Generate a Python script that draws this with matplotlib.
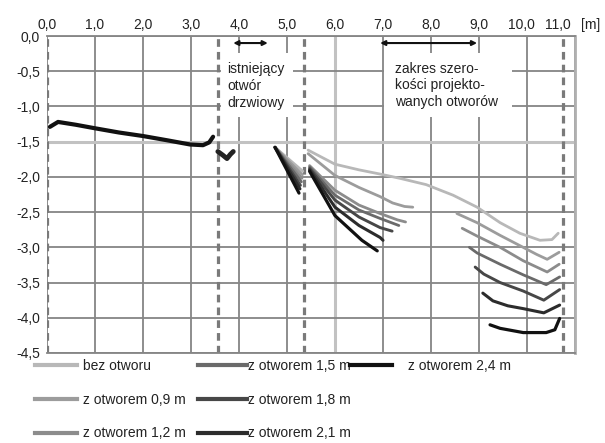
import matplotlib
matplotlib.use("Agg")
import matplotlib.pyplot as plt
import matplotlib.transforms as mtransforms
from matplotlib.lines import Line2D
from matplotlib.patches import Rectangle

plt.rcParams['font.family'] = ['Liberation Sans', 'DejaVu Sans']
plt.rcParams['font.size'] = 10

# ---------------- data ----------------
x_ticks = [0, 1, 2, 3, 4, 5, 6, 7, 8, 9, 10, 11]
x_tick_labels = ['0,0', '1,0', '2,0', '3,0', '4,0', '5,0', '6,0', '7,0', '8,0', '9,0', '10,0', '11,0']
y_ticks = [0.0, -0.5, -1.0, -1.5, -2.0, -2.5, -3.0, -3.5, -4.0, -4.5]
y_tick_labels = ['0,0', '-0,5', '-1,0', '-1,5', '-2,0', '-2,5', '-3,0', '-3,5', '-4,0', '-4,5']

wall_edges = [0.0, 3.56, 5.35, 10.75]
door_range = [3.88, 4.6]
design_range = [6.94, 8.96]

# common part of all curves (left wall segment)
wall_x = [0.06, 0.23, 0.6, 1.0, 1.5, 2.0, 2.5, 2.98, 3.25, 3.38, 3.46]
wall_y = [-1.29, -1.22, -1.26, -1.31, -1.37, -1.42, -1.48, -1.54, -1.55, -1.51, -1.43]
blob_x = [3.56, 3.66, 3.75, 3.82, 3.88]
blob_y = [-1.64, -1.69, -1.74, -1.68, -1.64]

labels = ['bez otworu', 'z otworem 0,9 m', 'z otworem 1,2 m', 'z otworem 1,5 m',
          'z otworem 1,8 m', 'z otworem 2,1 m', 'z otworem 2,4 m']

# short segment between door and pier (4.75 - 5.3 m)
pier_start_x = 4.75
pier_start_y = -1.58
pier_end_x = [5.33, 5.32, 5.31, 5.30, 5.28, 5.27, 5.25]
pier_end_y = [-1.92, -1.97, -2.02, -2.07, -2.12, -2.17, -2.23]

# bez otworu (continuous)
bez_x = [5.44, 6.0, 6.5, 6.94, 7.35, 7.9, 8.46, 8.96, 9.44, 9.85, 10.27, 10.52, 10.65]
bez_y = [-1.62, -1.82, -1.9, -1.96, -2.02, -2.11, -2.26, -2.43, -2.65, -2.8, -2.9, -2.89, -2.8]

# z otworem 0,9 m
o09_mid_x = [5.44, 6.0, 6.5, 6.94, 7.2, 7.45, 7.62]
o09_mid_y = [-1.67, -1.98, -2.15, -2.28, -2.37, -2.42, -2.43]
o09_right_x = [8.54, 8.96, 9.44, 9.92, 10.2, 10.42, 10.67]
o09_right_y = [-2.52, -2.65, -2.83, -3.0, -3.1, -3.17, -3.07]

# z otworem 1,2 m
o12_mid_x = [5.47, 6.0, 6.5, 6.94, 7.3, 7.47]
o12_mid_y = [-1.84, -2.19, -2.4, -2.52, -2.61, -2.64]
o12_right_x = [8.65, 8.96, 9.44, 9.92, 10.42, 10.67]
o12_right_y = [-2.73, -2.84, -3.0, -3.19, -3.35, -3.24]

# z otworem 1,5 m
o15_mid_x = [5.47, 6.0, 6.5, 6.94, 7.33]
o15_mid_y = [-1.86, -2.26, -2.47, -2.59, -2.69]
o15_right_x = [8.8, 8.96, 9.44, 9.92, 10.4, 10.68]
o15_right_y = [-3.0, -3.08, -3.24, -3.39, -3.53, -3.42]

# z otworem 1,8 m
o18_mid_x = [5.47, 6.0, 6.5, 6.94, 7.19]
o18_mid_y = [-1.88, -2.33, -2.57, -2.72, -2.77]
o18_right_x = [8.92, 9.1, 9.44, 9.92, 10.35, 10.68]
o18_right_y = [-3.28, -3.38, -3.5, -3.62, -3.75, -3.6]

# z otworem 2,1 m
o21_mid_x = [5.47, 6.0, 6.5, 6.94, 7.0]
o21_mid_y = [-1.9, -2.43, -2.69, -2.86, -2.9]
o21_right_x = [9.08, 9.29, 9.6, 9.92, 10.35, 10.68]
o21_right_y = [-3.65, -3.76, -3.83, -3.87, -3.93, -3.82]

# z otworem 2,4 m
o24_mid_x = [5.47, 6.0, 6.56, 6.88]
o24_mid_y = [-1.92, -2.55, -2.9, -3.05]
o24_right_x = [9.23, 9.44, 9.92, 10.4, 10.58, 10.68]
o24_right_y = [-4.1, -4.15, -4.21, -4.21, -4.17, -4.01]

# ---------------- styles ----------------
colors = ['#b8b8b8', '#9c9c9c', '#8c8c8c', '#6a6a6a', '#474747', '#2c2c2c', '#111111']
widths = [2.0, 2.0, 2.0, 2.0, 2.1, 2.2, 2.3]

fig = plt.figure(figsize=(6.05, 4.43), dpi=100)
ax = fig.add_axes([47 / 605, 1 - 353 / 443, 528 / 605, 317 / 443])
ax.set_xlim(0, 11)
ax.set_ylim(-4.5, 0)

# grid
ax.set_axisbelow(True)
for xv in x_ticks:
    c, lw = ('#c2c2c2', 2.2) if xv == 6 else ('#858585', 1.3)
    ax.axvline(xv, color=c, lw=lw, zorder=0.6)
for yv in y_ticks:
    c, lw = ('#c2c2c2', 2.2) if yv == -1.5 else ('#858585', 1.3)
    ax.axhline(yv, color=c, lw=lw, zorder=0.6)

for s in ['top', 'bottom']:
    ax.spines[s].set_color('#858585')
    ax.spines[s].set_linewidth(1.3)
ax.spines['left'].set_visible(False)
ax.spines['right'].set_color('#b0b0b0')
ax.spines['right'].set_linewidth(2.0)

# white boxes behind the annotations
ax.add_patch(Rectangle((3.62, -1.15), 1.5, 0.91, facecolor='white', edgecolor='none', zorder=1))
ax.add_patch(Rectangle((7.03, -1.15), 2.66, 0.91, facecolor='white', edgecolor='none', zorder=1))

# dashed wall edges
for xe in wall_edges:
    ax.axvline(xe, color='#7a7a7a', lw=2.3, dashes=(2.4, 1.6), zorder=1.5)

# curves
ax.plot(wall_x, wall_y, color='#111111', lw=3.0, solid_capstyle='round', zorder=3)
ax.plot(blob_x, blob_y, color='#222222', lw=3.5, solid_capstyle='round', zorder=3)

mids = [(bez_x, bez_y), (o09_mid_x, o09_mid_y), (o12_mid_x, o12_mid_y), (o15_mid_x, o15_mid_y),
        (o18_mid_x, o18_mid_y), (o21_mid_x, o21_mid_y), (o24_mid_x, o24_mid_y)]
rights = [None, (o09_right_x, o09_right_y), (o12_right_x, o12_right_y), (o15_right_x, o15_right_y),
          (o18_right_x, o18_right_y), (o21_right_x, o21_right_y), (o24_right_x, o24_right_y)]

for i in range(7):
    kw = dict(color=colors[i], lw=widths[i], solid_capstyle='round', solid_joinstyle='round', zorder=3 + i * 0.1)
    ax.plot([pier_start_x, pier_end_x[i]], [pier_start_y, pier_end_y[i]], **kw)
    ax.plot(mids[i][0], mids[i][1], **kw)
    if rights[i] is not None:
        ax.plot(rights[i][0], rights[i][1], **kw)

# annotations
ax.text(3.75, -0.71, 'istniejący\notwór\ndrzwiowy', ha='left', va='center', linespacing=1.3,
        color='#222222', zorder=4)
ax.text(7.25, -0.70, 'zakres szero-\nkości projekto-\nwanych otworów', ha='left', va='center',
        linespacing=1.25, color='#222222', zorder=4)
arrow = dict(arrowstyle='<|-|>', color='#111111', lw=1.5, mutation_scale=7, shrinkA=0, shrinkB=0)
ax.annotate('', xy=(door_range[1], -0.1), xytext=(door_range[0], -0.1), arrowprops=arrow, zorder=4)
ax.annotate('', xy=(design_range[1], -0.1), xytext=(design_range[0], -0.1), arrowprops=arrow, zorder=4)

# ticks
ax.xaxis.tick_top()
ax.set_xticks(x_ticks)
ax.set_xticklabels(x_tick_labels)
ax.set_yticks(y_ticks)
ax.set_yticklabels(y_tick_labels)
ax.tick_params(axis='both', length=0, labelcolor='#222222', labelsize=10)
ax.tick_params(axis='x', pad=3)
ax.tick_params(axis='y', pad=5)
# last x labels sit slightly left of their gridlines, as in the reference
xlabs = ax.get_xticklabels()
shift_px = [0, 0, 0, 0, 0, 0, 0, 0, 0, 0, -6, -17]
for lab, dx in zip(xlabs, shift_px):
    if dx:
        lab.set_transform(lab.get_transform() + mtransforms.ScaledTranslation(dx / 100, 0, fig.dpi_scale_trans))
ax.annotate('[m]', xy=(1, 1), xycoords='axes fraction', xytext=(4, 3), textcoords='offset points',
            ha='left', va='bottom', color='#222222')

# legend (3 columns)
handles = [Line2D([], [], color=colors[i], lw=3.0) for i in range(7)]
col_defs = [([0, 1, 2], 35 / 605, 3.0, 0.45),
            ([3, 4, 5], 198 / 605, 3.5, 0.1),
            ([6], 350 / 605, 3.0, 1.15)]
for idx, x0, hl, tp in col_defs:
    fig.legend([handles[j] for j in idx], [labels[j] for j in idx], loc='upper left',
               bbox_to_anchor=(x0, 1 - 359 / 443), frameon=False, borderpad=0, borderaxespad=0,
               handlelength=hl, handletextpad=tp, labelspacing=1.42, fontsize=10, labelcolor='#222222')

fig.savefig('out.png', dpi=100)
